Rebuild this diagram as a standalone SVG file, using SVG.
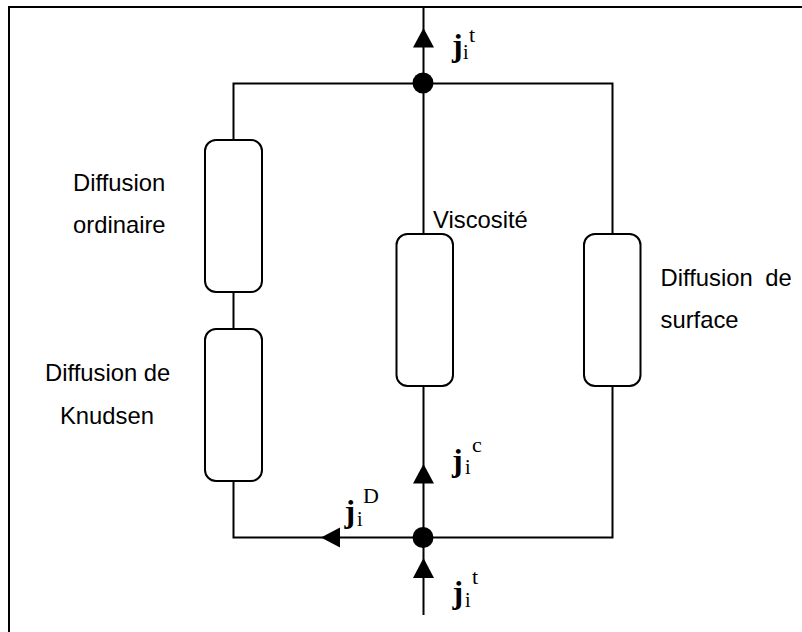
<svg xmlns="http://www.w3.org/2000/svg" width="802" height="632" viewBox="0 0 802 632">
<style>
.w{fill:none;stroke:#000;stroke-width:2}
.b{fill:#fff;stroke:#000;stroke-width:2}
.h{fill:#000}
.l{font-family:"Liberation Sans",Arial,sans-serif;font-size:23.800px;fill:#000}
.j{font-family:"Liberation Serif","Times New Roman",serif;font-size:32px;font-weight:bold;fill:#000}
.i{font-family:"Liberation Serif","Times New Roman",serif;font-size:20px;fill:#000}
.s{font-family:"Liberation Serif","Times New Roman",serif;font-size:22px;fill:#000}
</style>
<rect width="802" height="632" fill="#fff"/>
<g id="frame"><path d="M9 632V7H802" fill="none" stroke="#000" stroke-width="2"/></g>
<g id="connectors">
<path class="w" d="M423.500 7V234M423.500 386V615M233.500 140V83.500H612.500V234M233.500 292V329M233.500 481V537.500H612.500V386"/>
<path class="h" d="M423.500 28L434 47.500H413Z"/>
<path class="h" d="M423.500 464L434 483.500H413Z"/>
<path class="h" d="M423.500 558L434 578H413Z"/>
<path class="h" d="M321 537.500L340 527.500V547.500Z"/>
</g>
<g id="junction-top"><circle class="h" cx="423" cy="83" r="10.500"/></g>
<g id="junction-bottom"><circle class="h" cx="423" cy="537.500" r="10.500"/></g>
<g id="node-ordinaire"><rect class="b" x="205" y="140" width="57" height="152" rx="11"/><text class="l" x="73" y="191">Diffusion</text><text class="l" x="73" y="233">ordinaire</text></g>
<g id="node-knudsen"><rect class="b" x="205" y="329" width="57" height="152" rx="11"/><text class="l" x="45" y="381">Diffusion de</text><text class="l" x="60" y="424">Knudsen</text></g>
<g id="node-viscosite"><rect class="b" x="396.500" y="234" width="56.500" height="152" rx="11"/><text class="l" x="433" y="228">Viscosité</text></g>
<g id="node-surface"><rect class="b" x="584" y="234" width="56.500" height="152" rx="11"/><text class="l" x="660.500" y="286" word-spacing="6">Diffusion de</text><text class="l" x="660.500" y="328">surface</text></g>
<g id="label-jt-top"><text class="j" x="452" y="56">j</text><text class="i" x="463" y="59">i</text><text class="s" x="469" y="42">t</text></g>
<g id="label-jc"><text class="j" x="452" y="470.500">j</text><text class="i" x="465" y="474">i</text><text class="s" x="472" y="452">c</text></g>
<g id="label-jd"><text class="j" x="344.500" y="521.500">j</text><text class="i" x="357" y="526">i</text><text class="s" x="363" y="503">D</text></g>
<g id="label-jt-bottom"><text class="j" x="452.500" y="602.500">j</text><text class="i" x="465" y="607">i</text><text class="s" x="472" y="584">t</text></g>
</svg>
